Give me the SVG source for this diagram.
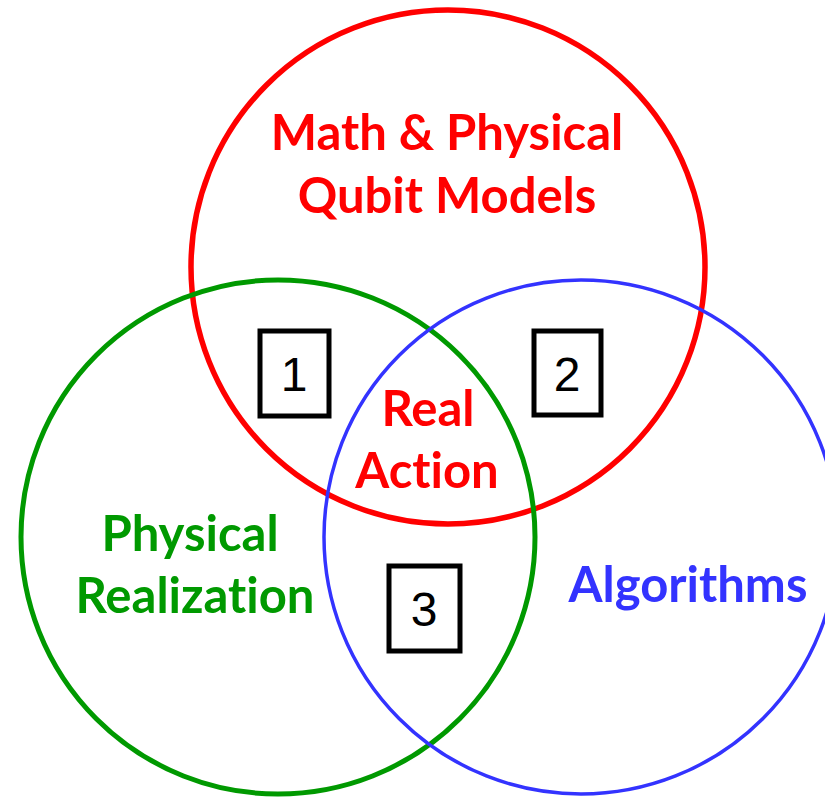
<svg xmlns="http://www.w3.org/2000/svg" width="825" height="797" viewBox="0 0 825 797">
<style>
.lbl{font-family:Lato,"Open Sans","Liberation Sans",sans-serif;font-weight:bold;font-size:49px;text-anchor:middle;font-variant-ligatures:none}
.num{font-family:"Liberation Sans",Arial,sans-serif;font-size:48px;text-anchor:middle;fill:#000}
.box{fill:none;stroke:#000;stroke-width:5}
</style>
<rect width="825" height="797" fill="#fff"/>
<g id="red">
<circle cx="448" cy="267" r="257" fill="none" stroke="#ff0000" stroke-width="5.5"/>
<text class="lbl" x="447" y="150" fill="#ff0000">Math &amp; Physical</text>
<text class="lbl" x="447" y="213" fill="#ff0000">Qubit Models</text>
</g>
<g id="green">
<circle cx="278" cy="537" r="257" fill="none" stroke="#009900" stroke-width="5"/>
<text class="lbl" x="190" y="551" fill="#009900">Physical</text>
<text class="lbl" x="195" y="613" fill="#009900">Realization</text>
</g>
<g id="blue">
<circle cx="581" cy="537" r="257" fill="none" stroke="#3333ff" stroke-width="3.5"/>
<text class="lbl" x="688" y="602" fill="#3333ff">Algorithms</text>
</g>
<g id="center">
<text class="lbl" x="428" y="426" fill="#ff0000">Real</text>
<text class="lbl" x="427" y="488" fill="#ff0000">Action</text>
</g>
<g id="box1">
<rect class="box" x="260" y="331" width="69" height="85"/>
<text class="num" x="294" y="391">1</text>
</g>
<g id="box2">
<rect class="box" x="534" y="331" width="67" height="84"/>
<text class="num" x="567" y="391">2</text>
</g>
<g id="box3">
<rect class="box" x="389" y="566" width="71" height="85"/>
<text class="num" x="424" y="626">3</text>
</g>
<g id="connectors"/>
</svg>
